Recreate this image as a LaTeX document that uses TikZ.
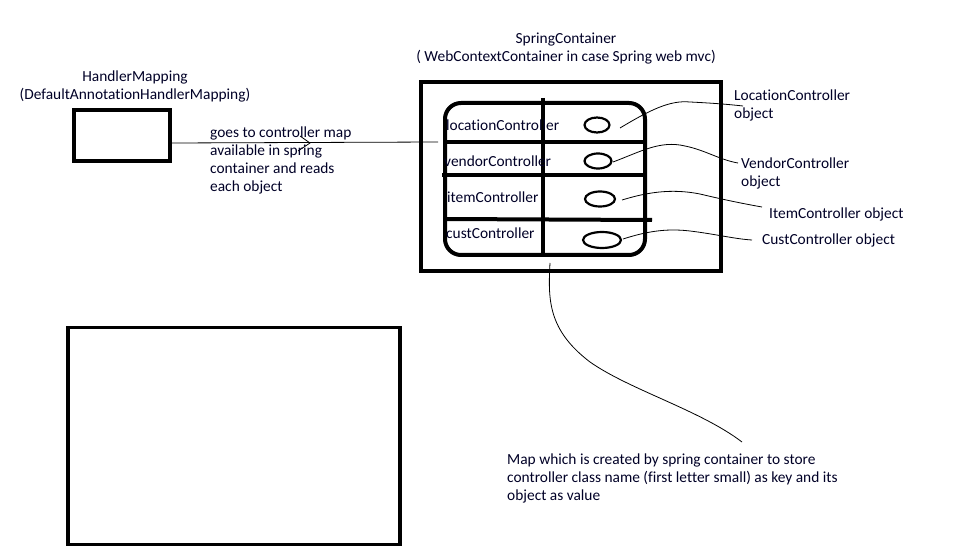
\documentclass[tikz,border=0pt]{standalone}
\usepackage{fontspec}
\setmainfont{Carlito}[Ligatures=NoCommon]
\usetikzlibrary{shapes.geometric}
\begin{document}
\begin{tikzpicture}[x=1pt,y=-1pt,
  every node/.style={font=\fontsize{15.4}{18}\selectfont, inner sep=0pt, text=black!85!blue},
  heavy/.style={line width=4pt},
  thin/.style={line width=0.8pt},
  lbl/.style={anchor=west, align=left},
  oval/.style={draw, line width=2.2pt, ellipse, minimum width=#1, minimum height=15pt}]
\useasboundingbox (0,0) rectangle (970,553);

% titles
\node[align=center] (sctitle) at (566,49) {SpringContainer\\( WebContextContainer in case Spring web mvc)};
\node[align=center] (hmtitle) at (135,86) {HandlerMapping\\(DefaultAnnotationHandlerMapping)};

% handler mapping box
\node[draw, heavy, minimum width=96pt, minimum height=51pt] (hm) at (122,136) {};
% big container
\node[draw, heavy, minimum width=300pt, minimum height=189pt] (sc) at (571,177) {};
% inner map
\draw[heavy, rounded corners=16pt] (445,103) rectangle (645,255);
\coordinate (vtop) at (543,98);
\coordinate (vbot) at (543,255);
\draw[heavy] (vtop) -- (vbot);
\coordinate (h1a) at (445,142); \coordinate (h1b) at (645,142);
\coordinate (h2a) at (442,175); \coordinate (h2b) at (645,175);
\coordinate (h3a) at (445,219); \coordinate (h3b) at (652,220);
\draw[heavy] (h1a) -- (h1b);
\draw[heavy] (h2a) -- (h2b);
\draw[heavy] (h3a) -- (h3b);

% keys
\node[lbl] (k1) at (446,125) {locationController};
\node[lbl] (k2) at (444,161) {vendorController};
\node[lbl] (k3) at (447,197) {itemController};
\node[lbl] (k4) at (446,233) {custController};

% values
\node[oval=25pt] (o1) at (597,125) {};
\node[oval=27pt] (o2) at (598,161) {};
\node[oval=30pt] (o3) at (600,199) {};
\node[oval=38pt, minimum height=16pt] (o4) at (602,240) {};

% value labels
\node[lbl] (l1) at (734,105) {LocationController\\object};
\node[lbl] (l2) at (741,173) {VendorController\\object};
\node[lbl] (l3) at (769,214) {ItemController object};
\node[lbl] (l4) at (762,240) {CustController object};

\coordinate (c1) at (620,128);
\coordinate (c2) at (613,162);
\coordinate (c3) at (622,200);
\coordinate (c4) at (623,239);
\coordinate (e1) at (743,106);
\coordinate (e2) at (738,163);
\coordinate (e3) at (762,207);
\coordinate (e4) at (752,240);
\draw[thin] (c1) .. controls (650,110) and (670,100) .. (690,102) .. controls (710,103) and (725,104) .. (e1);
\draw[thin] (c2) .. controls (640,152) and (660,140) .. (685,146) .. controls (705,150) and (720,160) .. (e2);
\draw[thin] (c3) .. controls (645,193) and (670,188) .. (700,194) .. controls (725,200) and (745,204) .. (e3);
\draw[thin] (c4) .. controls (645,232) and (665,228) .. (690,231) .. controls (715,234) and (735,239) .. (e4);

% connector from handler mapping
\coordinate (hmend) at (438,142);
\draw[thin] (hm.east |- 0,143) -- (hmend);
\coordinate (tip) at (310,143);
\draw[thin] (300,136) -- (tip) -- (298,151);
\node[lbl] (goes) at (210,160) {goes to controller map\\available in spring\\container and reads\\each object};

% map note
\coordinate (m0) at (550,263);
\coordinate (m1) at (742,442);
\draw[thin] (m0) .. controls (548,300) and (548,330) .. (590,362) .. controls (630,390) and (700,410) .. (m1);
\node[lbl] (note) at (507,478) {Map which is created by spring container to store\\controller class name (first letter small) as key and its\\object as value};

% empty big box
\node[draw, line width=3.5pt, minimum width=332pt, minimum height=217pt] (big) at (234,436) {};
\end{tikzpicture}
\end{document}
